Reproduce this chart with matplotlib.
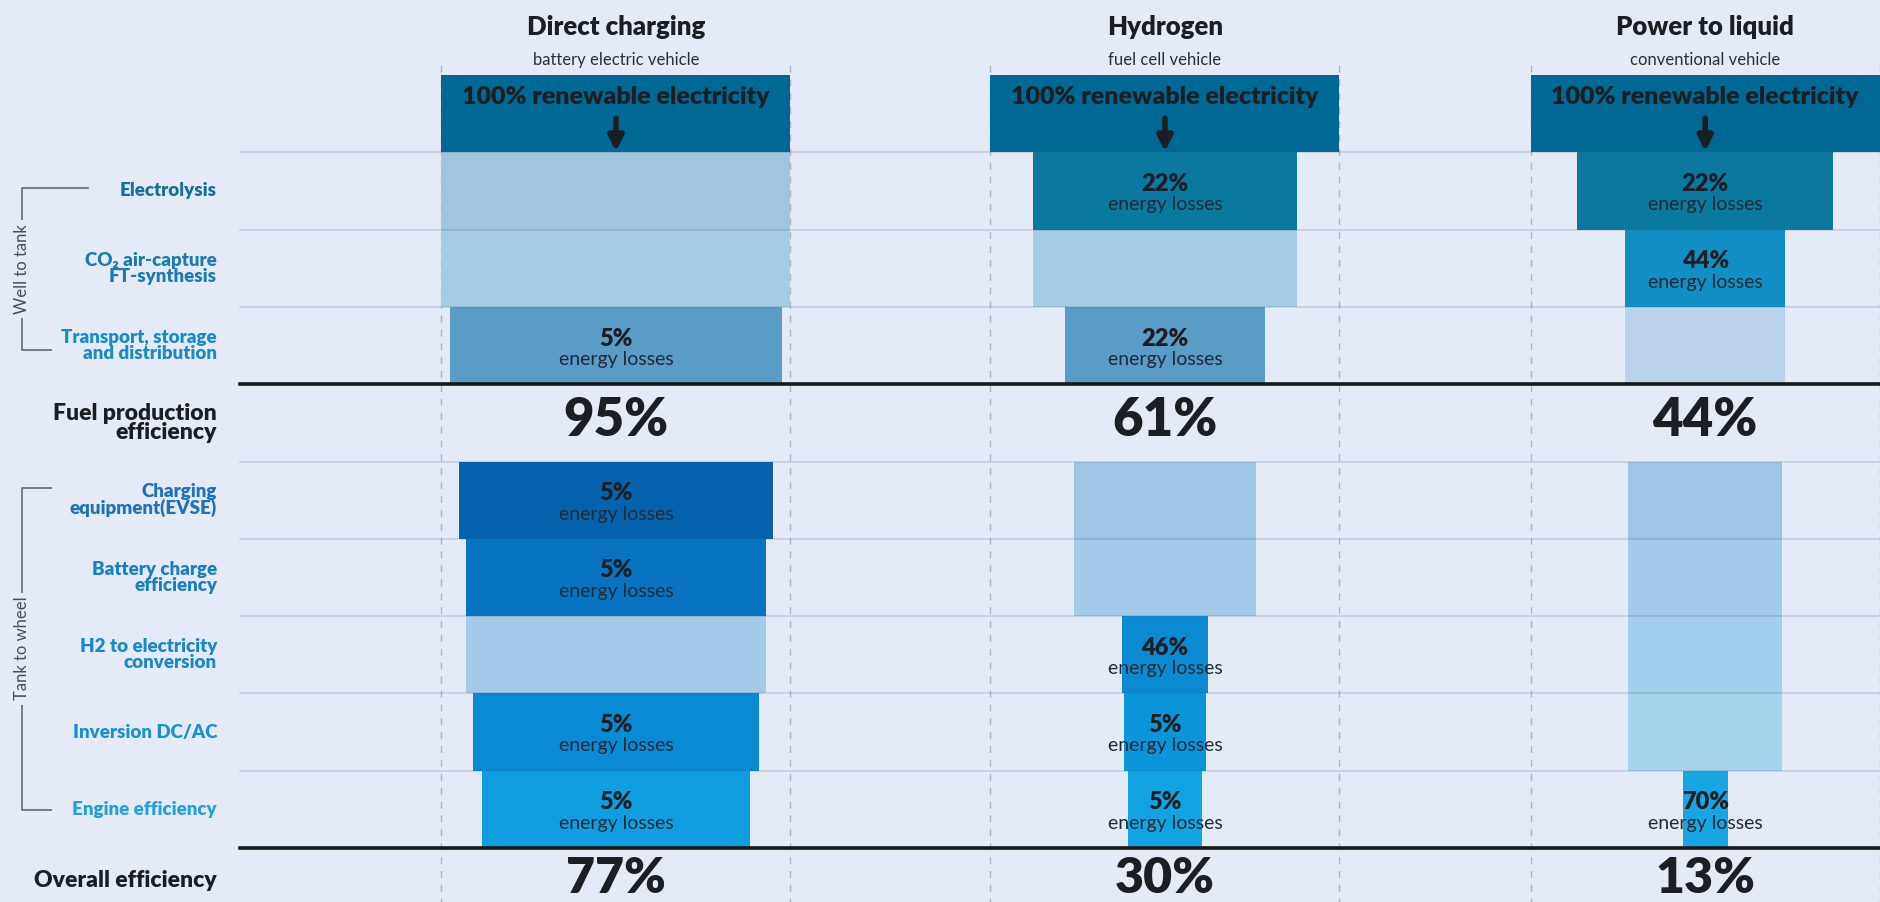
import matplotlib
matplotlib.use("Agg")
import matplotlib.pyplot as plt

plt.rcParams['font.family'] = ['Lato', 'DejaVu Sans']

# ---- data ----
columns = ['Direct charging', 'Hydrogen', 'Power to liquid']
subtitles = ['battery electric vehicle', 'fuel cell vehicle', 'conventional vehicle']
source_label = '100% renewable electricity'

step_labels = ['Electrolysis', 'CO\u2082 air-capture\nFT-synthesis', 'Transport, storage\nand distribution',
               'Charging\nequipment(EVSE)', 'Battery charge\nefficiency', 'H2 to electricity\nconversion',
               'Inversion DC/AC', 'Engine efficiency']

# energy losses per step (None = step not used)
dc_losses = [None, None, 5, 5, 5, None, 5, 5]
h2_losses = [22, None, 22, None, None, 46, 5, 5]
ptl_losses = [22, 44, None, None, None, None, None, 70]

# bar widths in % of the column (remaining energy, as drawn)
dc_width = [100, 100, 95, 90, 86, 86, 82, 77]
h2_width = [75.5, 75.5, 57.5, 52, 52, 24.5, 23.5, 21]
ptl_width = [73.5, 46, 46, 44, 44, 44, 44, 13]

fuel_eff = [95, 61, 44]
overall_eff = [77, 30, 13]

dc_colors = ['#a0c5dd', '#a4cde4', '#5a9cc8', '#0762ae', '#0873c0', '#a3cbe9', '#088bd2', '#0f9fe0']
h2_colors = ['#0a789f', '#a4cde4', '#5a9cc8', '#9fc5e5', '#a2cbe9', '#0a8ad0', '#0a95d9', '#12a4e2']
ptl_colors = ['#0a789f', '#118fc4', '#bad3ea', '#9fc5e5', '#a2cbe9', '#a4cfec', '#a6d2ee', '#17a6e2']

label_colors = ['#176e9a', '#1a7cae', '#1a8bc2', '#1f72b8', '#1a7ec4', '#1a87ca', '#1a90d2', '#22a0dc']

# ---- layout ----
BG = '#e5ebf6'
DARK = '#1b1f24'
TOP_COLOR = '#006894'
W, H = 1880, 902
COL_PX = 349.0   # pixels per 100 units
ROW_PX = 77.3
TOP_PX = 75.0
centers = [176.5, 333.8, 488.6]
grid_x0 = 240 / COL_PX * 100
label_x = 217 / COL_PX * 100

fig = plt.figure(figsize=(W / 100, H / 100), dpi=100, facecolor=BG)
ax = fig.add_axes([0, 0, 1, 1])
ax.set_facecolor(BG)
ax.set_xlim(0, W / COL_PX * 100)
ax.set_ylim((H - TOP_PX) / ROW_PX, -TOP_PX / ROW_PX)
ax.axis('off')

losses = [dc_losses, h2_losses, ptl_losses]
widths = [dc_width, h2_width, ptl_width]
colors = [dc_colors, h2_colors, ptl_colors]
step_rows = [1, 2, 3, 5, 6, 7, 8, 9]

for c, cx in enumerate(centers):
    # dashed column edges
    for ex in (cx - 50, cx + 50):
        ax.plot([ex, ex], [-0.13, 11], color='#aeb4bf', lw=1, ls=(0, (5, 5)), zorder=0)
    ax.text(cx, -0.62, columns[c], ha='center', va='center', fontsize=18.5, fontweight='heavy', color=DARK)
    ax.text(cx, -0.19, subtitles[c], ha='center', va='center', fontsize=12, color='#2b2f35')

    # source box
    ax.barh(0, 100, left=cx - 50, height=1, align='edge', color=TOP_COLOR, zorder=2)
    ax.text(cx, 0.29, source_label, ha='center', va='center', fontsize=18, fontweight='heavy',
            color=DARK, zorder=4)
    ax.annotate('', xy=(cx, 0.99), xytext=(cx, 0.56),
                arrowprops=dict(arrowstyle='-|>', lw=4, color=DARK, mutation_scale=22, shrinkA=0, shrinkB=0),
                zorder=4)

    for i, r in enumerate(step_rows):
        w = widths[c][i]
        ax.barh(r, w, left=cx - w / 2, height=1, align='edge', color=colors[c][i], zorder=2)
        if losses[c][i] is not None:
            ax.text(cx, r + 0.41, f'{losses[c][i]}%', ha='center', va='center', fontsize=17,
                    fontweight='heavy', color=DARK, zorder=4)
            ax.text(cx, r + 0.68, 'energy losses', ha='center', va='center', fontsize=14,
                    color='#1e2a35', zorder=4)

    ax.text(cx, 4.47, f'{fuel_eff[c]}%', ha='center', va='center', fontsize=38, fontweight='heavy', color=DARK)
    ax.text(cx, 10.39, f'{overall_eff[c]}%', ha='center', va='center', fontsize=36, fontweight='heavy', color=DARK)

# row grid
xmax = W / COL_PX * 100
for r in [1, 2, 3, 5, 6, 7, 8, 9]:
    ax.plot([grid_x0, xmax], [r, r], color='#4a5b72', alpha=0.2, lw=1.2, zorder=3)
for r in [4, 10]:
    ax.plot([grid_x0, xmax], [r, r], color='#161616', lw=2.6, zorder=5)

# left labels
for i, r in enumerate(step_rows):
    ax.text(label_x, r + 0.5, step_labels[i], ha='right', va='center', fontsize=13.5, fontweight='heavy',
            color=label_colors[i], linespacing=0.92)
ax.text(label_x, 4.5, 'Fuel production\nefficiency', ha='right', va='center', fontsize=16.5,
        fontweight='heavy', color=DARK, linespacing=0.92)
ax.text(label_x, 10.42, 'Overall efficiency', ha='right', va='center', fontsize=16.5,
        fontweight='heavy', color=DARK)

# brackets
bx = 22 / COL_PX * 100
br_col = '#6d737c'
ax.plot([25.2, bx, bx, 14.6], [1.46, 1.46, 3.56, 3.56], color=br_col, lw=1.3)
ax.text(bx, 2.51, 'Well to tank', rotation=90, ha='center', va='center', fontsize=12, color='#4a4f57',
        bbox=dict(boxstyle='square,pad=0.25', fc=BG, ec='none'))
ax.plot([14.6, bx, bx, 14.6], [5.34, 5.34, 9.51, 9.51], color=br_col, lw=1.3)
ax.text(bx, 7.42, 'Tank to wheel', rotation=90, ha='center', va='center', fontsize=12, color='#4a4f57',
        bbox=dict(boxstyle='square,pad=0.25', fc=BG, ec='none'))

fig.savefig('out.png', dpi=100, facecolor=BG)
